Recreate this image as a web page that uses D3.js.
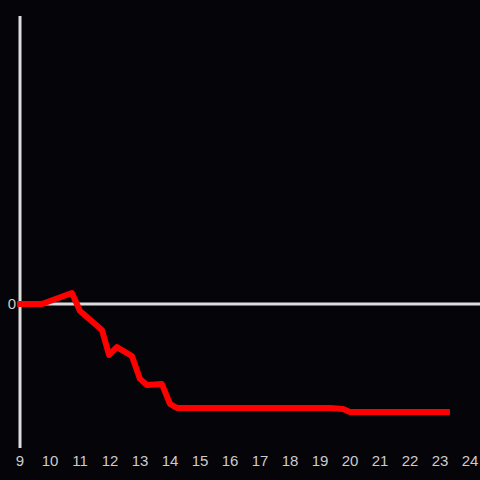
<!DOCTYPE html>
<html>
<head>
<meta charset="utf-8">
<script src="https://cdn.jsdelivr.net/npm/d3@7"></script>
<style>
  body { margin: 0; background: #050408; }
  svg { display: block; }
</style>
</head>
<body>
<div id="chart"></div>
<script>
// Data (hours of day vs value)
var hours  = [8.9, 9.73, 10.73, 11.0, 11.73, 11.97, 12.23, 12.73, 13.0, 13.23, 13.73, 14.0, 14.23, 19.33, 19.77, 20.0, 23.33];
var values = [0, 0, 0.076, -0.049, -0.18, -0.354, -0.299, -0.361, -0.52, -0.5625, -0.556, -0.694, -0.722, -0.722, -0.729, -0.75, -0.75];
var xTicks = [9, 10, 11, 12, 13, 14, 15, 16, 17, 18, 19, 20, 21, 22, 23, 24];
var yTicks = [0];

var width = 480, height = 480;
var data = hours.map(function(h, i) { return {h: h, v: values[i]}; });

var x = d3.scaleLinear().domain([9, 24]).range([20, 470]);
var y = d3.scaleLinear().domain([-1, 2]).range([448, 16]);

var svg = d3.select("#chart").append("svg")
    .attr("width", width)
    .attr("height", height);

svg.append("rect")
    .attr("width", width)
    .attr("height", height)
    .attr("fill", "#050408");

// zero line
svg.append("line")
    .attr("x1", x(9)).attr("x2", width)
    .attr("y1", y(0)).attr("y2", y(0))
    .attr("stroke", "#dddddd")
    .attr("stroke-width", 3);

// y axis line
svg.append("line")
    .attr("x1", x(9)).attr("x2", x(9))
    .attr("y1", y(2)).attr("y2", y(-1))
    .attr("stroke", "#dddddd")
    .attr("stroke-width", 3);

// x tick labels
svg.append("g")
    .selectAll("text")
    .data(xTicks)
    .enter().append("text")
        .attr("x", function(d) { return x(d); })
        .attr("y", 461)
        .attr("dy", "0.35em")
        .attr("text-anchor", "middle")
        .attr("fill", "#cccccc")
        .style("font", "15px 'Liberation Sans', Arial, sans-serif")
        .text(function(d) { return d; });

// y tick labels
svg.append("g")
    .selectAll("text")
    .data(yTicks)
    .enter().append("text")
        .attr("x", 16)
        .attr("y", function(d) { return y(d); })
        .attr("dy", "0.35em")
        .attr("text-anchor", "end")
        .attr("fill", "#cccccc")
        .style("font", "15px 'Liberation Sans', Arial, sans-serif")
        .text(function(d) { return d; });

var line = d3.line()
    .x(function(d) { return x(d.h); })
    .y(function(d) { return y(d.v); });

svg.append("path")
    .datum(data)
    .attr("d", line)
    .attr("fill", "none")
    .attr("stroke", "#ff0000")
    .attr("stroke-width", 6)
    .attr("stroke-linejoin", "round");
</script>
</body>
</html>
